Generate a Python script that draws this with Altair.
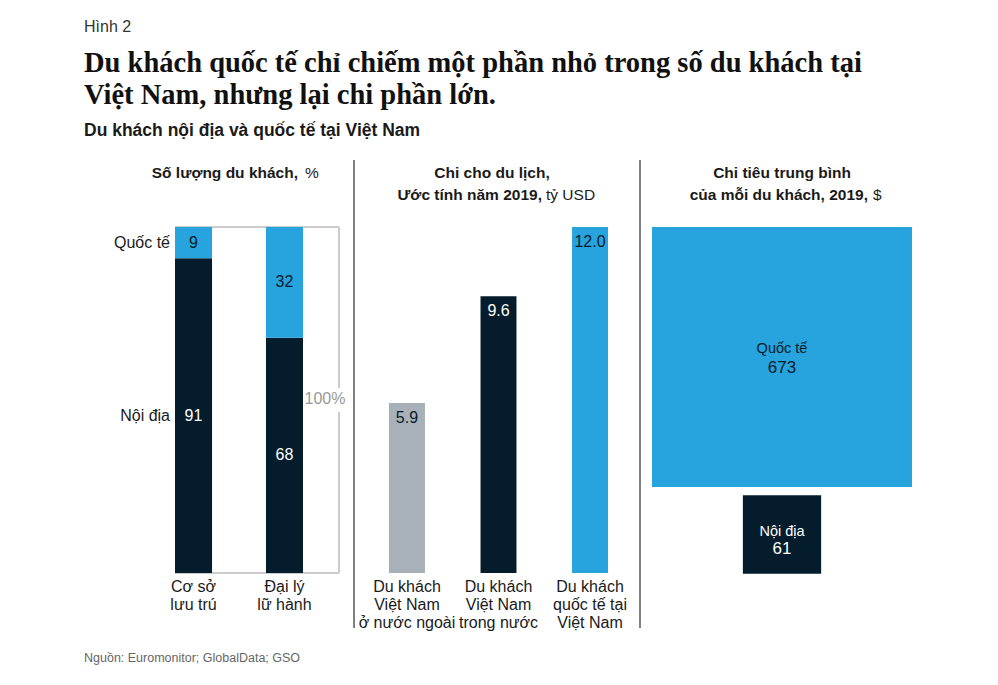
import altair as alt
import pandas as pd

# ---------------- data ----------------
p1_categories = ["Cơ sở\nlưu trú", "Đại lý\nlữ hành"]
p1_segments = ["Nội địa", "Quốc tế"]
p1_domestic = [91, 68]
p1_international = [9, 32]

p2_categories = ["Du khách\nViệt Nam\nở nước ngoài", "Du khách\nViệt Nam\ntrong nước", "Du khách\nquốc tế tại\nViệt Nam"]
p2_values = [5.9, 9.6, 12.0]
p2_labels = ["5.9", "9.6", "12.0"]

p3_segments = ["Quốc tế", "Nội địa"]
p3_values = [673, 61]

NAVY = "#051c2c"
BLUE = "#27a3dd"
GRAY = "#a8b0b8"
TXT = "#1a1a1a"

def px(v):
    return v - 8

# build tables
rows = []
for i, c in enumerate(p1_categories):
    d, q = p1_domestic[i], p1_international[i]
    rows.append({"cat": c, "seg": "Nội địa", "value": d, "y0": 0, "y1": d, "mid": d / 2})
    rows.append({"cat": c, "seg": "Quốc tế", "value": q, "y0": d, "y1": d + q, "mid": d + q / 2})
df1 = pd.DataFrame(rows)
df2 = pd.DataFrame({"cat": p2_categories, "value": p2_values, "label": p2_labels})
df3 = pd.DataFrame({"seg": p3_segments, "value": p3_values})
one = pd.DataFrame({"k": [0]})

# ---------------- scales ----------------
def x1(center=False):
    kw = {"bandPosition": 0.5} if center else {}
    return alt.X("cat:N", sort=p1_categories, axis=None,
                 scale=alt.Scale(type="band", domain=p1_categories, range=[px(175), px(303)],
                                 paddingInner=0.593, paddingOuter=0), **kw)

def x2(center=False):
    kw = {"bandPosition": 0.5} if center else {}
    return alt.X("cat:N", sort=p2_categories, axis=None,
                 scale=alt.Scale(type="band", domain=p2_categories, range=[px(389), px(608)],
                                 paddingInner=0.607, paddingOuter=0), **kw)

y1 = alt.Scale(domain=[0, 100], range=[px(573), px(227)])
y2 = alt.Scale(domain=[0, 12], range=[px(573), px(227)])
y3 = alt.Y("seg:N", axis=None,
           scale=alt.Scale(type="point", domain=p3_segments, range=[px(357), px(534.5)], padding=0))

layers = []

def txt(text, x, y, size=15.5, weight="normal", align="center", color=TXT, font="Liberation Sans", baseline="middle"):
    return alt.Chart(one).mark_text(fontSize=size, fontWeight=weight, align=align, baseline=baseline,
                                    color=color, font=font).encode(
        x=alt.value(px(x)), y=alt.value(px(y)), text=alt.value(text))

def rule(x, x2v, y, y2v, color="#cccccc", w=2):
    return alt.Chart(one).mark_rule(color=color, strokeWidth=w).encode(
        x=alt.value(px(x)), x2=alt.value(px(x2v)), y=alt.value(px(y)), y2=alt.value(px(y2v)))

# titles
layers.append(txt("Hình 2", 84, 27, size=16, align="left", color="#333333"))
layers.append(txt("Du khách quốc tế chỉ chiếm một phần nhỏ trong số du khách tại", 84, 63, size=28.5,
                  weight="bold", align="left", font="Liberation Serif", color="#111111"))
layers.append(txt("Việt Nam, nhưng lại chi phần lớn.", 84, 95, size=28.5,
                  weight="bold", align="left", font="Liberation Serif", color="#111111"))
layers.append(txt("Du khách nội địa và quốc tế tại Việt Nam", 84, 131, size=17.5, weight="bold", align="left"))

# panel headers
layers.append(txt("Số lượng du khách,", 298, 173, weight="bold", align="right"))
layers.append(txt("%", 305, 173, align="left"))
layers.append(txt("Chi cho du lịch,", 492, 173, weight="bold"))
layers.append(txt("Ước tính năm 2019,", 542, 195, weight="bold", align="right"))
layers.append(txt("tỷ USD", 546, 195, align="left"))
layers.append(txt("Chi tiêu trung bình", 782, 173, weight="bold"))
layers.append(txt("của mỗi du khách, 2019,", 868, 195, weight="bold", align="right"))
layers.append(txt("$", 873, 195, align="left"))

# separators
layers.append(rule(354, 354, 160, 628, color="#555555", w=1.5))
layers.append(rule(640, 640, 160, 628, color="#555555", w=1.5))

# panel 1 bracket
layers.append(rule(175, 339, 227, 227))
layers.append(rule(175, 339, 573, 573))
layers.append(rule(339, 339, 227, 388))
layers.append(rule(339, 339, 412, 573))
layers.append(txt("100%", 325, 399, size=16, color="#999999"))

# panel 1 bars
layers.append(alt.Chart(df1).mark_bar().encode(
    x=x1(),
    y=alt.Y("y0:Q", scale=y1, axis=None), y2="y1:Q",
    color=alt.Color("seg:N", scale=alt.Scale(domain=p1_segments, range=[NAVY, BLUE]), legend=None)))
layers.append(alt.Chart(df1).mark_text(fontSize=16).encode(
    x=x1(True),
    y=alt.Y("mid:Q", scale=y1, axis=None),
    text="value:Q",
    color=alt.Color("seg:N", scale=alt.Scale(domain=p1_segments, range=["white", NAVY]), legend=None)))
layers.append(alt.Chart(df1).transform_filter(alt.datum.cat == p1_categories[0]).mark_text(
    fontSize=16, align="right", color=TXT).encode(
    x=alt.value(px(170)),
    y=alt.Y("mid:Q", scale=y1, axis=None),
    text="seg:N"))
layers.append(alt.Chart(df1).transform_filter(alt.datum.seg == "Nội địa").mark_text(
    fontSize=16, lineBreak="\n", lineHeight=18, baseline="top", color=TXT).encode(
    x=x1(True), y=alt.value(px(579)), text="cat:N"))

# panel 2 bars
layers.append(alt.Chart(df2).mark_bar().encode(
    x=x2(),
    y=alt.Y("value:Q", scale=y2, axis=None),
    color=alt.Color("cat:N", scale=alt.Scale(domain=p2_categories, range=[GRAY, NAVY, BLUE]), legend=None)))
layers.append(alt.Chart(df2).mark_text(fontSize=16, dy=15).encode(
    x=x2(True),
    y=alt.Y("value:Q", scale=y2, axis=None),
    text="label:N",
    color=alt.Color("cat:N", scale=alt.Scale(domain=p2_categories, range=[NAVY, "white", NAVY]), legend=None)))
layers.append(alt.Chart(df2).mark_text(
    fontSize=16, lineBreak="\n", lineHeight=18, baseline="top", color=TXT).encode(
    x=x2(True), y=alt.value(px(579)), text="cat:N"))

# panel 3 squares
layers.append(alt.Chart(df3).mark_square(opacity=1, strokeWidth=0).encode(
    x=alt.value(px(782)),
    y=y3,
    size=alt.Size("value:Q", scale=alt.Scale(type="linear", domain=[0, 673], range=[0, 67600]), legend=None),
    color=alt.Color("seg:N", scale=alt.Scale(domain=p3_segments, range=[BLUE, NAVY]), legend=None)))
layers.append(alt.Chart(df3).transform_filter(alt.datum.seg == "Quốc tế").mark_text(
    fontSize=14.5, dy=-8, color=NAVY).encode(x=alt.value(px(782)), y=y3, text="seg:N"))
layers.append(alt.Chart(df3).transform_filter(alt.datum.seg == "Quốc tế").mark_text(
    fontSize=17, dy=11, color=NAVY).encode(x=alt.value(px(782)), y=y3, text="value:Q"))
layers.append(alt.Chart(df3).transform_filter(alt.datum.seg == "Nội địa").mark_text(
    fontSize=14.5, dy=-3, color="white").encode(x=alt.value(px(782)), y=y3, text="seg:N"))
layers.append(alt.Chart(df3).transform_filter(alt.datum.seg == "Nội địa").mark_text(
    fontSize=17, dy=14, color="white").encode(x=alt.value(px(782)), y=y3, text="value:Q"))

# source
layers.append(txt("Nguồn: Euromonitor; GlobalData; GSO", 84, 658, size=12.5, align="left", color="#666666"))

chart = alt.layer(*layers).resolve_scale(
    x="independent", y="independent", color="independent", size="independent"
).properties(
    width=982, height=669, padding=0, autosize=alt.AutoSizeParams(type="none")
).configure(font="Liberation Sans", background="white").configure_view(stroke=None)

chart.save("out.html", embed_options={"renderer": "svg", "actions": False})
